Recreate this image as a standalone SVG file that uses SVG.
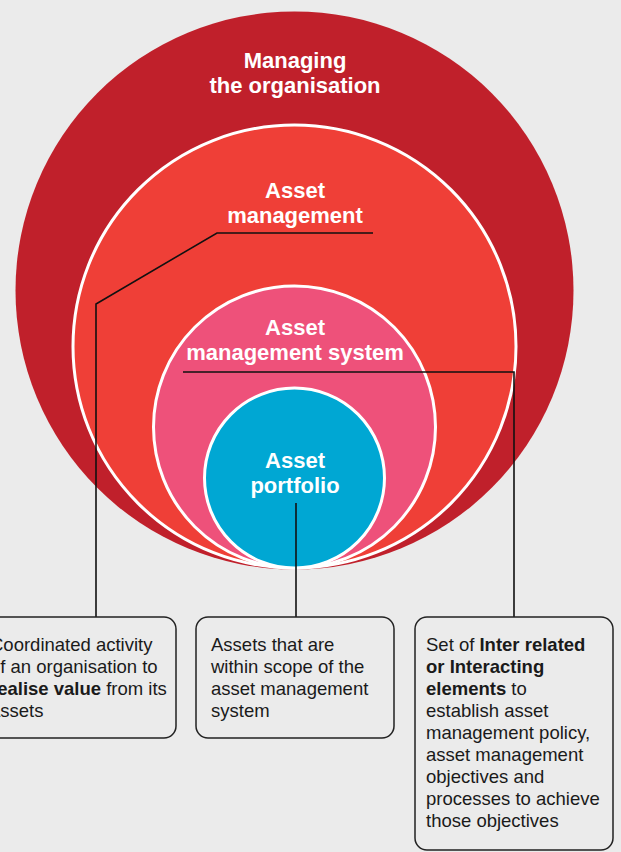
<svg xmlns="http://www.w3.org/2000/svg" width="621" height="852" viewBox="0 0 621 852">
  <style>
    .ring { stroke: #ffffff; stroke-width: 3; }
    .title { font-family: "Liberation Sans", Arial, sans-serif; font-size: 22px; font-weight: bold; fill: #ffffff; text-anchor: middle; }
    .link { fill: none; stroke: #111111; stroke-width: 1.6; }
    .box { fill: #ebebeb; stroke: #222222; stroke-width: 1.5; }
    .note { font-family: "Liberation Sans", Arial, sans-serif; font-size: 18.5px; fill: #1a1a1a; }
    .b { font-weight: bold; }
  </style>

  <rect width="621" height="852" fill="#ebebeb"/>

  <!-- nested circles, all tangent at the bottom -->
  <g id="managing-the-organisation">
    <circle cx="294.5" cy="290.5" r="279" fill="#c0202b"/>
    <text class="title" x="295" y="68">Managing</text>
    <text class="title" x="295" y="93">the organisation</text>
  </g>
  <g id="asset-management">
    <circle class="ring" cx="294.5" cy="346.5" r="221.5" fill="#ef3f37"/>
    <text class="title" x="295" y="198">Asset</text>
    <text class="title" x="295" y="223">management</text>
  </g>
  <g id="asset-management-system">
    <circle class="ring" cx="294.5" cy="427" r="141" fill="#ee517a"/>
    <text class="title" x="295" y="335">Asset</text>
    <text class="title" x="295" y="360">management system</text>
  </g>
  <g id="asset-portfolio">
    <circle class="ring" cx="294.5" cy="478" r="90" fill="#00a7d3"/>
    <text class="title" x="295" y="468">Asset</text>
    <text class="title" x="295" y="493">portfolio</text>
  </g>

  <!-- leader lines from labels to description boxes -->
  <g id="connectors">
    <polyline class="link" points="373,233 217,233 96,304 96,617"/>
    <polyline class="link" points="183,372 514,372 514,617"/>
    <polyline class="link" points="296,503 296,617"/>
  </g>

  <g id="box-asset-management">
    <rect class="box" x="-24" y="617" width="200" height="121" rx="12"/>
    <text class="note" x="-10" y="651">Coordinated activity</text>
    <text class="note" x="-10" y="673">of an organisation to</text>
    <text class="note" x="-10" y="695"><tspan class="b">realise value</tspan> from its</text>
    <text class="note" x="-10" y="717">assets</text>
  </g>

  <g id="box-asset-portfolio">
    <rect class="box" x="196" y="617" width="198" height="121" rx="12"/>
    <text class="note" x="211" y="651">Assets that are</text>
    <text class="note" x="211" y="673">within scope of the</text>
    <text class="note" x="211" y="695">asset management</text>
    <text class="note" x="211" y="717">system</text>
  </g>

  <g id="box-asset-management-system">
    <rect class="box" x="415" y="617" width="198" height="233" rx="12"/>
    <text class="note" x="426" y="651">Set of <tspan class="b">Inter related</tspan></text>
    <text class="note b" x="426" y="673">or Interacting</text>
    <text class="note" x="426" y="695"><tspan class="b">elements</tspan> to</text>
    <text class="note" x="426" y="717">establish asset</text>
    <text class="note" x="426" y="739">management policy,</text>
    <text class="note" x="426" y="761">asset management</text>
    <text class="note" x="426" y="783">objectives and</text>
    <text class="note" x="426" y="805">processes to achieve</text>
    <text class="note" x="426" y="827">those objectives</text>
  </g>
</svg>
